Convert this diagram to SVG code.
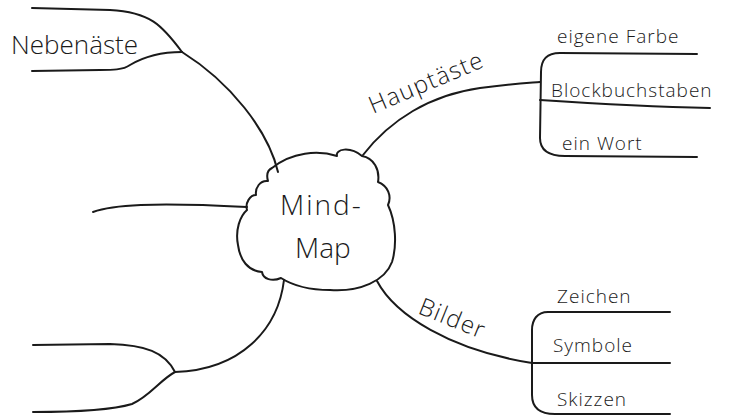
<svg xmlns="http://www.w3.org/2000/svg" width="730" height="417" viewBox="0 0 730 417">
<style>
.ln{fill:none;stroke:#1a1a1a;stroke-width:2;stroke-linecap:round;stroke-linejoin:round}
.t{font-family:"Open Sans","Liberation Sans",sans-serif;font-weight:300;fill:#1a1a1a}
.s{font-size:19px;letter-spacing:1px}
.m{font-size:24px;letter-spacing:1.2px}
</style>
<rect width="730" height="417" fill="#fff"/>
<g id="connectors">
<path class="ln" d="M278,172 C268,130 230,82 182,52"/>
<path class="ln" d="M182,52 C162,25 150,12 110,10 L32,8"/>
<path class="ln" d="M182,52 C160,52 145,56 130,65 C123,70 112,70 100,70 L32,71"/>
<path class="ln" d="M93,212 C112,205 150,202 247,207"/>
<path class="ln" d="M284,280 C278,330 240,370 175,372"/>
<path class="ln" d="M175,372 C165,352 145,345 110,344 L33,345"/>
<path class="ln" d="M175,372 C160,380 150,396 132,404 C112,410 80,412 33,412"/>
<path class="ln" d="M363,155 C390,120 430,95 480,88 C510,84 528,83 540,82"/>
<path class="ln" d="M697,54 L560,53 C546,53 541,60 541,72 L540,138 C540,150 548,156 565,156 L697,157"/>
<path class="ln" d="M540,100 C600,104 660,107 710,108"/>
<path class="ln" d="M377,281 C395,315 450,350 532,363"/>
<path class="ln" d="M670,312 L548,312 C537,312 532,320 532,330 L532,395 C532,408 540,414 555,414 L670,414"/>
<path class="ln" d="M532,363 L670,363"/>
</g>
<g id="center">
<path class="ln" d="M272,168 C292,152 318,150 337,156 C335,149 350,146 362,156 C374,158 380,170 378,182 C388,186 392,196 388,205 C396,222 397,246 392,262 C385,281 360,292 330,290 C308,290 292,285 281,278 C272,282 263,279 262,272 C248,271 240,260 238,245 C235,230 240,216 247,210 C245,203 250,195 256,195 C255,188 260,180 268,181 C266,174 268,170 272,168 Z"/>
<text class="t" font-size="28" letter-spacing="2" x="280" y="215">Mind-</text>
<text class="t" font-size="28" x="295" y="258">Map</text>
</g>
<g id="nebenaeste"><text class="t" font-size="26" x="11" y="54">Nebenäste</text></g>
<g id="hauptaeste"><text class="t m" transform="translate(373,114) rotate(-23)">Hauptäste</text></g>
<g id="eigene-farbe"><text class="t s" x="557" y="43">eigene Farbe</text></g>
<g id="blockbuchstaben"><text class="t s" x="551" y="97">Blockbuchstaben</text></g>
<g id="ein-wort"><text class="t s" x="562" y="150">ein Wort</text></g>
<g id="bilder"><text class="t m" transform="translate(417,313) rotate(22)">Bilder</text></g>
<g id="zeichen"><text class="t s" x="557" y="303">Zeichen</text></g>
<g id="symbole"><text class="t s" x="553" y="352">Symbole</text></g>
<g id="skizzen"><text class="t s" x="557" y="406">Skizzen</text></g>
</svg>
